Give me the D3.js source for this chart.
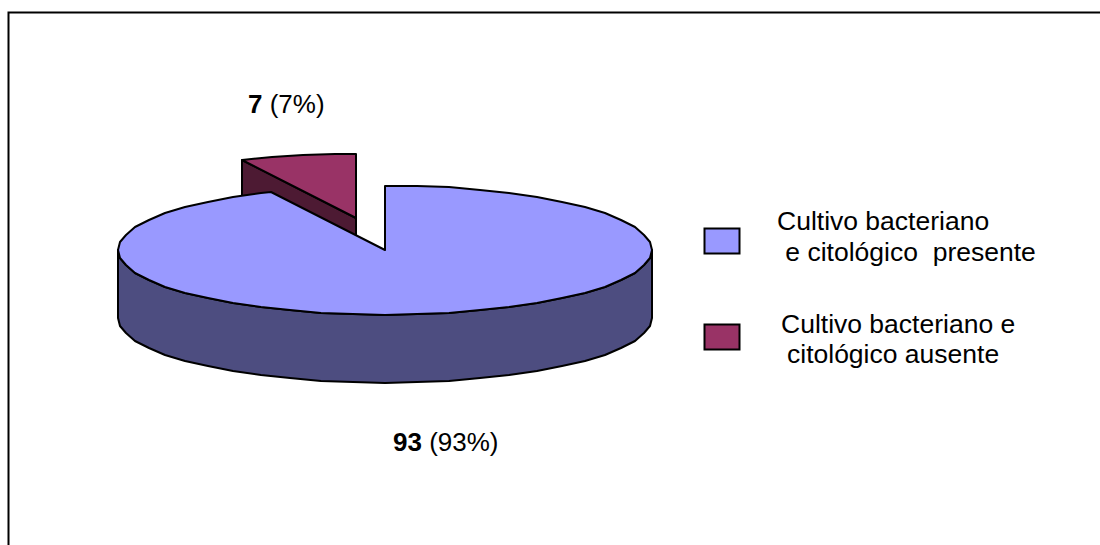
<!DOCTYPE html>
<html>
<head>
<meta charset="utf-8">
<script src="https://cdn.jsdelivr.net/npm/d3@7"></script>
<style>
    html, body { margin: 0; padding: 0; background: #fff; }
    text { font-family: "Liberation Sans", Arial, sans-serif; fill: #000; }
</style>
</head>
<body>
<svg id="chart"></svg>
<script>
const categories = ["Cultivo bacteriano e citológico presente", "Cultivo bacteriano e citológico ausente"];
const counts = [93, 7];
const percents = ["93%", "7%"];
const legendLines = [
    ["Cultivo bacteriano", " e citológico  presente"],
    ["Cultivo bacteriano e", "citológico ausente"]
];

const width = 1100;
const height = 545;

const topColor = ["#9999ff", "#993366"];
const sideColor = ["#4d4d80", "#4d1a33"];

const svg = d3.select("#chart")
    .attr("width", width)
    .attr("height", height)
    .style("display", "block");

// frame, only the left and top edges are in the picture
svg.append("path")
    .attr("d", "M8.5,545V12.5H1100")
    .attr("fill", "none")
    .attr("stroke", "#000")
    .attr("stroke-width", 2);

const slices = d3.pie().sort(null)(counts);

const rx = 267;
const ry = 64.5;
const depth = 68;
const step = Math.PI / 26;  // coarse, the original outline is a jagged polygon

// scales from the unit circle to the tilted ellipse
const xScale = d3.scaleLinear().domain([-1, 1]).range([385 - rx, 385 + rx]);
const yScale = d3.scaleLinear().domain([-1, 1]).range([250 - ry, 250 + ry]);

// the small slice is pulled out to the upper left
const offsets = [{ x: 0, y: 0 }, { x: -29, y: -32 }];

function rimPoints(d, i) {
    const pts = d3.range(d.startAngle, d.endAngle, step).concat([d.endAngle]);
    return pts.map(a => [
        Math.round(xScale(Math.sin(a))) + offsets[i].x,
        Math.round(yScale(-Math.cos(a))) + offsets[i].y
    ]);
}

const line = d3.line();

function drawSlice(d, i) {
    const rim = rimPoints(d, i);
    const cx = xScale(0) + offsets[i].x;
    const cy = yScale(0) + offsets[i].y;
    const g = svg.append("g")
        .attr("stroke", "#000")
        .attr("stroke-width", 2)
        .attr("stroke-linejoin", "round");

    // outer wall, only the front half of the main slice shows
    if (i === 0) {
        const front = rim.filter(p => p[1] >= cy - 3);
        const wall = front.concat(front.slice().reverse().map(p => [p[0], p[1] + depth]));
        g.append("path").attr("d", line(wall) + "Z").attr("fill", sideColor[i]);
    } else {
        // wall under the cut edge, the main slice covers the rest
        const wall = [rim[0], [cx, cy], [cx, cy + depth], [rim[0][0], rim[0][1] + depth]];
        g.append("path").attr("d", line(wall) + "Z").attr("fill", sideColor[i]);
    }

    g.append("path")
        .attr("d", line(rim.concat([[cx, cy]])) + "Z")
        .attr("fill", topColor[i]);
}

// small slice first, the main one sits in front of it
drawSlice(slices[1], 1);
drawSlice(slices[0], 0);

// value labels
const labelPos = [{ x: 393, y: 451 }, { x: 248, y: 113 }];
const labels = svg.selectAll("text.value")
    .data(counts)
    .enter()
    .append("text")
    .attr("class", "value")
    .attr("x", (d, i) => labelPos[i].x)
    .attr("y", (d, i) => labelPos[i].y)
    .style("font-size", "26px");
labels.append("tspan").attr("font-weight", "bold").text(d => d);
labels.append("tspan").text((d, i) => ` (${percents[i]})`);

// legend
const legendBoxY = [228, 324];
const legendTextX = [[777, 778], [781, 787]];
const legendTextY = [[230, 261], [333, 363]];

categories.forEach((c, i) => {
    svg.append("rect")
        .attr("x", 704.5)
        .attr("y", legendBoxY[i] + 0.5)
        .attr("width", 35)
        .attr("height", 25)
        .attr("fill", topColor[i])
        .attr("stroke", "#000")
        .attr("stroke-width", 2);
    legendLines[i].forEach((t, j) => {
        svg.append("text")
            .attr("x", legendTextX[i][j])
            .attr("y", legendTextY[i][j])
            .style("white-space", "pre")
            .style("font-size", "26.5px")
            .text(t);
    });
});
</script>
</body>
</html>
